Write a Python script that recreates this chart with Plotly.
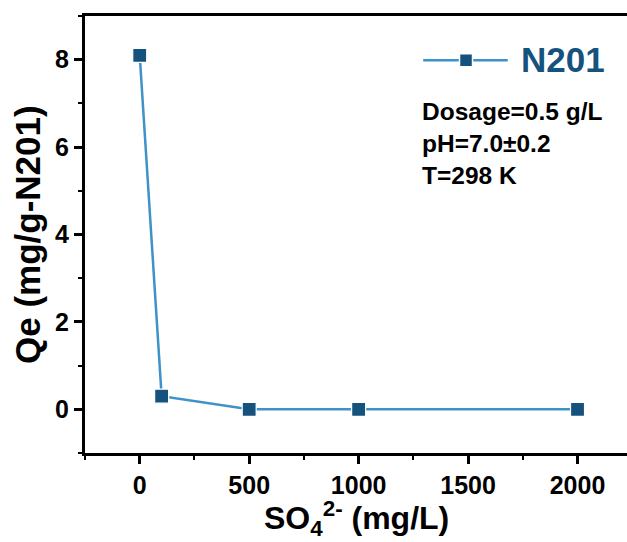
import plotly.graph_objects as go

so4 = [0, 100, 500, 1000, 2000]
qe = [8.1, 0.3, 0.0, 0.0, 0.0]
series_name = "N201"
x_ticks = [0, 500, 1000, 1500, 2000]
y_ticks = [0, 2, 4, 6, 8]
conditions = ["Dosage=0.5 g/L", "pH=7.0±0.2", "T=298 K"]

line_color = "#3d92c8"
marker_color = "#15527e"
font_family = "Liberation Sans, Arial, sans-serif"

fig = go.Figure()
fig.add_trace(go.Scatter(
    x=so4, y=qe, mode="lines+markers", name=series_name,
    line=dict(color=line_color, width=2.5),
    marker=dict(symbol="square", size=14, color=marker_color,
                line=dict(color="white", width=1.2)),
    showlegend=False,
))

axis_common = dict(
    showline=True, linecolor="black", linewidth=3,
    ticks="outside", tickwidth=2.5, ticklen=8, tickcolor="black",
    showgrid=False, zeroline=False,
    tickfont=dict(size=25, family=font_family, color="black"),
)

fig.update_layout(
    width=627, height=542,
    margin=dict(l=85, r=0, t=16, b=89),
    plot_bgcolor="white", paper_bgcolor="white",
    font=dict(family=font_family, color="black"),
    showlegend=False,
    xaxis=dict(
        range=[-250, 2226], tickvals=x_ticks,
        ticktext=["<b>%d</b>" % v for v in x_ticks],
        mirror=True,
        minor=dict(tickvals=[-250, 250, 750, 1250, 1750], ticks="outside",
                   ticklen=4, tickwidth=2, tickcolor="black"),
        **axis_common,
    ),
    yaxis=dict(
        range=[-1, 9], tickvals=y_ticks,
        ticktext=["<b>%d</b>" % v for v in y_ticks],
        mirror=False,
        minor=dict(tickvals=[-1, 1, 3, 5, 7, 9], ticks="outside",
                   ticklen=4, tickwidth=2, tickcolor="black"),
        **axis_common,
    ),
)

# axis titles
fig.add_annotation(
    xref="paper", yref="paper", x=0.5, y=-0.151, xanchor="center", yanchor="middle",
    text="<b>SO<sub>4</sub><sup>2-</sup> (mg/L)</b>", showarrow=False,
    font=dict(size=32, family=font_family, color="black"),
)
fig.add_annotation(
    xref="paper", yref="paper", x=-0.105, y=0.499, xanchor="center", yanchor="middle",
    text="<b>Qe (mg/g-N201)</b>", showarrow=False, textangle=-90,
    font=dict(size=35, family=font_family, color="black"),
)

# legend (line - marker - line, then label)
fig.add_shape(type="line", xref="paper", yref="paper", x0=0.624, x1=0.780, y0=0.899, y1=0.899,
              line=dict(color=line_color, width=2.5))
fig.add_shape(type="rect", xref="paper", yref="paper", xsizemode="pixel", ysizemode="pixel",
              xanchor=0.703, yanchor=0.899, x0=-6.5, x1=6.5, y0=-6.5, y1=6.5,
              fillcolor=marker_color, line=dict(color="white", width=1.5))
fig.add_annotation(
    xref="paper", yref="paper", x=0.800, y=0.900, xanchor="left", yanchor="middle",
    text="<b>%s</b>" % series_name, showarrow=False,
    font=dict(size=35, family=font_family, color=marker_color),
)

# condition text
fig.add_annotation(
    xref="paper", yref="paper", x=0.618, y=0.817, xanchor="left", yanchor="top",
    text="<b>" + "<br>".join(conditions) + "</b>",
    showarrow=False, align="left",
    font=dict(size=24.5, family=font_family, color="black"),
)

fig.write_html("out.html")
